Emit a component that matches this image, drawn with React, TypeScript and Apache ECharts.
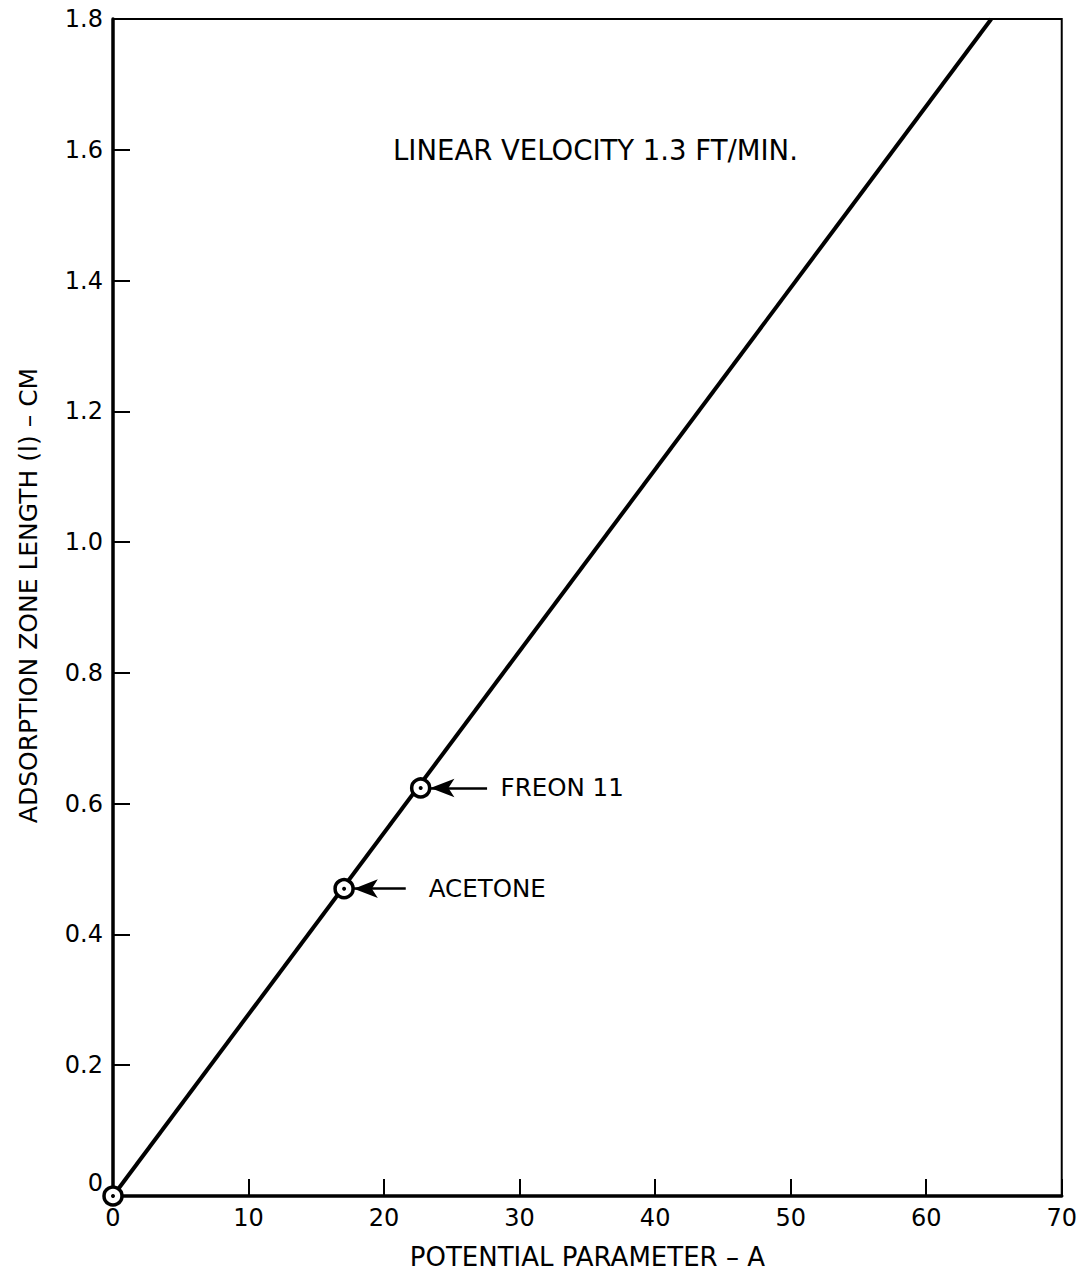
import React, { useEffect, useRef } from "react";
import * as echarts from "echarts";

const lineX = [0, 64.8];
const lineY = [0, 1.8];
const pointNames = ["", "ACETONE", "FREON 11"];
const pointX = [0, 17.05, 22.7];
const pointY = [0, 0.47, 0.624];
const arrowFromX = [0, 21.6, 27.6];
const labelX = [0, 23.3, 28.6];
const xTicks = [0, 10, 20, 30, 40, 50, 60, 70];
const yTicks = [0, 0.2, 0.4, 0.6, 0.8, 1.0, 1.2, 1.4, 1.6, 1.8];
const titleText = "LINEAR VELOCITY 1.3 FT/MIN.";
const xName = "POTENTIAL PARAMETER \u2013 A";
const yName = "ADSORPTION ZONE LENGTH (l) \u2013 CM";

const FONT = "DejaVu Sans";

export default function App() {
  const ref = useRef<HTMLDivElement>(null);
  useEffect(() => {
    const chart = echarts.init(ref.current!, null, { renderer: "svg" });
    const pts = pointX.map((x, i) => [x, pointY[i]]);
    const idx = pointNames.map((n, i) => ({ n, i })).filter((o) => o.n);
    const arrows = idx.map(({ i }) => [
      { coord: [arrowFromX[i], pointY[i]] },
      { coord: [pointX[i] + 0.72, pointY[i]] },
    ]);
    const labels = idx.map(({ n, i }) => ({ value: [labelX[i], pointY[i]], name: n }));
    chart.setOption({
      animation: false,
      backgroundColor: "#fff",
      textStyle: { fontFamily: FONT, color: "#000" },
      title: {
        text: titleText,
        left: 388,
        top: 131,
        textStyle: { fontFamily: FONT, fontSize: 27.5, fontWeight: "normal", color: "#000" },
      },
      grid: {
        left: 113,
        right: 15,
        top: 19,
        bottom: 76,
        show: true,
        borderColor: "#000",
        borderWidth: 2,
      },
      xAxis: {
        type: "value",
        min: xTicks[0],
        max: xTicks[xTicks.length - 1],
        interval: xTicks[1] - xTicks[0],
        name: xName,
        nameLocation: "middle",
        nameGap: 48,
        nameTextStyle: { fontFamily: FONT, fontSize: 26, color: "#000" },
        axisLine: { show: true, lineStyle: { color: "#000", width: 3.5 } },
        axisTick: { show: true, inside: true, length: 17, lineStyle: { color: "#000", width: 2 } },
        axisLabel: { fontFamily: FONT, fontSize: 24, color: "#000", margin: 10 },
        splitLine: { show: false },
      },
      yAxis: {
        type: "value",
        min: yTicks[0],
        max: yTicks[yTicks.length - 1],
        interval: 0.2,
        name: yName,
        nameLocation: "middle",
        nameGap: 72,
        nameRotate: 90,
        nameTextStyle: { fontFamily: FONT, fontSize: 25, color: "#000", padding: [0, 0, 0, 24] },
        axisLine: { show: true, lineStyle: { color: "#000", width: 3.5 } },
        axisTick: { show: true, inside: true, length: 17, lineStyle: { color: "#000", width: 2 } },
        axisLabel: {
          fontFamily: FONT,
          fontSize: 24,
          color: "#000",
          margin: 10,
          formatter: (v: number) => (Math.abs(v) < 1e-9 ? "{z|0}" : v.toFixed(1)),
          rich: { z: { fontFamily: FONT, fontSize: 24, color: "#000", padding: [0, 0, 26, 0] } },
        },
        splitLine: { show: false },
      },
      series: [
        {
          type: "line",
          data: lineX.map((x, i) => [x, lineY[i]]),
          showSymbol: false,
          lineStyle: { color: "#000", width: 4 },
          clip: true,
          z: 2,
          silent: true,
          markLine: {
            silent: true,
            symbol: ["none", "arrow"],
            symbolSize: [14, 24],
            label: { show: false },
            lineStyle: { color: "#000", width: 2.5, type: "solid" },
            data: arrows,
          },
        },
        {
          type: "scatter",
          data: pts,
          symbol: "circle",
          symbolSize: 18,
          clip: false,
          itemStyle: { color: "#fff", borderColor: "#000", borderWidth: 3.5, opacity: 1 },
          z: 4,
        },
        {
          type: "scatter",
          data: pts,
          symbol: "circle",
          symbolSize: 4,
          clip: false,
          itemStyle: { color: "#000", opacity: 1 },
          z: 5,
        },
        {
          type: "scatter",
          data: labels,
          symbolSize: 0,
          itemStyle: { opacity: 1 },
          label: {
            show: true,
            position: "right",
            distance: 0,
            formatter: (p: any) => p.name,
            fontFamily: FONT,
            fontSize: 24.5,
            color: "#000",
          },
          z: 5,
        },
      ],
    });
    return () => chart.dispose();
  }, []);
  return (
    <div
      ref={ref}
      style={{ position: "absolute", left: 0, top: 0, width: 1080, height: 1275 }}
    />
  );
}
